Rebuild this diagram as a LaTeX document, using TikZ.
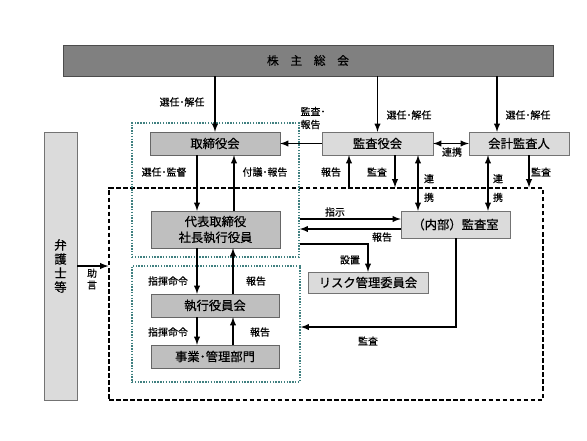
\documentclass[tikz,border=0pt]{standalone}
\usepackage{fontspec}
\setmainfont{Noto Sans CJK JP}[FakeBold=0.6]
\usepackage{tikz}
\usetikzlibrary{arrows,calc}

\begin{document}
\begin{tikzpicture}[x=0.03cm, y=-0.03cm,
darkbox/.style={rectangle,draw=black!70,fill=black!50,inner sep=0pt,font=\fontsize{10}{12}\selectfont},
midbox/.style={rectangle,draw=black!60,fill=black!25,inner sep=0pt,font=\fontsize{10.5}{12}\selectfont},
litebox/.style={rectangle,draw=black!55,fill=black!14,inner sep=0pt,font=\fontsize{10.5}{12}\selectfont},
lbl/.style={inner sep=0pt,font=\fontsize{8.5}{10}\selectfont,align=center},
dotbox/.style={rectangle,draw=teal!50!gray,dash pattern=on 1.2pt off 1.2pt,line width=1.3pt},
dashbox/.style={rectangle,draw,dash pattern=on 4pt off 2pt,line width=1.1pt},
arr/.style={-latex,line width=1.4pt},
darr/.style={latex-latex,line width=1.4pt}
    ]
  \useasboundingbox (0,0) rectangle (587,440);
  % frames
  \node[dashbox, minimum width=13.02cm, minimum height=6.36cm] (frame) at (326,294) {};
  \node[dotbox, minimum width=5.01cm, minimum height=4.02cm] (grpA) at (215.5,190) {};
  \node[dotbox, minimum width=5.04cm, minimum height=3.48cm] (grpB) at (216,324) {};
  % boxes
  \node[darkbox, minimum width=14.7cm, minimum height=0.93cm] (kabu) at (308,60.5) {株\quad 主\quad 総\quad 会};
  \node[midbox, minimum width=3.9cm, minimum height=0.69cm] (tori) at (215,143.5) {取締役会};
  \node[litebox, minimum width=3.33cm, minimum height=0.69cm] (kansa) at (377.5,143.5) {監査役会};
  \node[litebox, minimum width=3.0cm, minimum height=0.69cm] (kaikei) at (519,143.5) {会計監査人};
  \node[litebox, minimum width=0.99cm, minimum height=8.04cm, align=center,
        font=\fontsize{10.5}{12}\selectfont] (bengo) at (60.5,266) {弁\\護\\士\\等};
  \node[midbox, minimum width=3.87cm, minimum height=1.11cm, align=center,
        font=\fontsize{10.5}{13.5}\selectfont] (daihyo) at (215.5,229.5) {代表取締役\\社長執行役員};
  \node[litebox, minimum width=3.27cm, minimum height=0.81cm] (naibu) at (455.5,224.5) {（内部）監査室};
  \node[litebox, minimum width=3.6cm, minimum height=0.63cm] (risk) at (368,282.5) {リスク管理委員会};
  \node[midbox, minimum width=3.84cm, minimum height=0.69cm] (shikko) at (215,305.5) {執行役員会};
  \node[midbox, minimum width=3.84cm, minimum height=0.69cm] (jigyo) at (215,356.5) {事業･管理部門};

  % shareholders
  \draw[arr] (kabu.south -| tori.north) -- (tori.north);
  \draw[arr] (kabu.south -| kansa.north) -- (kansa.north);
  \draw[arr] (kabu.south -| 497,0) -- (kaikei.north -| 497,0);
  \node[lbl] (l1) at (182,102) {選任･解任};
  \node[lbl] (l2) at (409,115) {選任･解任};
  \node[lbl] (l3) at (528,115) {選任･解任};

  % board / auditors
  \draw[arr] (kansa.west) -- (tori.east);
  \node[lbl, align=left, font=\fontsize{8.5}{11}\selectfont] (l4) at (313,118) {監査･\\報告};
  \draw[darr] (kansa.east) -- (kaikei.west);
  \node[lbl] (l5) at (452,152) {連携};
  \draw[arr] (tori.south -| 197,0) -- (daihyo.north -| 197,0);
  \draw[arr] (daihyo.north -| 234,0) -- (tori.south -| 234,0);
  \node[lbl] (l6) at (164,172) {選任･監督};
  \node[lbl] (l7) at (265,172) {付議･報告};
  \draw[arr] (frame.north -| 349,0) -- (kansa.south -| 349,0);
  \draw[arr] (kansa.south -| 395,0) -- (frame.north -| 395,0);
  \node[lbl] (l8) at (331,172) {報告};
  \node[lbl] (l9) at (377,172) {監査};
  \draw[darr] (kansa.south -| 418,0) -- (naibu.north -| 418,0);
  \draw[darr] (kaikei.south -| 488,0) -- (naibu.north -| 488,0);
  \node[lbl, font=\fontsize{8.5}{16}\selectfont] (l10) at (429,188) {連\\携};
  \node[lbl, font=\fontsize{8.5}{16}\selectfont] (l11) at (498,188) {連\\携};
  \draw[arr] (kaikei.south -| 529,0) -- (frame.north -| 529,0);
  \node[lbl] (l12) at (541,172) {監査};

  % internal audit
  \draw[arr] (grpA.east |- 0,219) -- (naibu.west |- 0,219);
  \draw[arr] (naibu.west |- 0,229) -- (grpA.east |- 0,229);
  \node[lbl] (l13) at (335,212) {指示};
  \node[lbl] (l14) at (382,237) {報告};
  \draw[arr] (grpA.east |- 0,244) -| (risk.north);
  \node[lbl] (l15) at (350,260) {設置};
  \draw[arr] (naibu.south -| 456,0) |- (grpB.east |- 0,327);
  \node[lbl] (l16) at (368,341) {監査};

  % executives
  \draw[arr] (daihyo.south -| 197,0) -- (shikko.north -| 197,0);
  \draw[arr] (shikko.north -| 233,0) -- (daihyo.south -| 233,0);
  \node[lbl] (l17) at (168,281) {指揮命令};
  \node[lbl] (l18) at (256,281) {報告};
  \draw[arr] (shikko.south -| 197,0) -- (jigyo.north -| 197,0);
  \draw[arr] (jigyo.north -| 233,0) -- (shikko.south -| 233,0);
  \node[lbl] (l19) at (168,332) {指揮命令};
  \node[lbl] (l20) at (260,332) {報告};

  % lawyers
  \draw[arr] (bengo.east |- 0,266) -- (frame.west |- 0,266);
  \node[lbl] (l21) at (92,279) {助\\言};
\end{tikzpicture}
\end{document}
